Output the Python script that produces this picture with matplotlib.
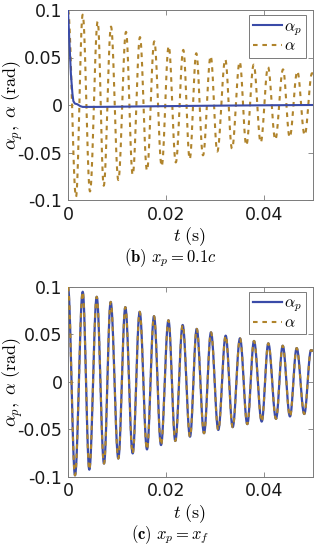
import numpy as np
import matplotlib
matplotlib.use("Agg")
import matplotlib.pyplot as plt

plt.rcParams['mathtext.fontset'] = 'cm'
plt.rcParams['font.family'] = ['DejaVu Sans']

# ---------------- data ----------------
# (b) x_p = 0.1c : alpha (dashed) extrema
b_alpha_peak_t = [0.0, 0.0030, 0.00606, 0.00878, 0.01184, 0.01469, 0.01761, 0.02055, 0.02353,
                  0.02618, 0.02912, 0.0321, 0.03504, 0.0379, 0.04082, 0.04388, 0.0468, 0.0498]
b_alpha_peak_v = [0.1, 0.0951, 0.0880, 0.0825, 0.0770, 0.0715, 0.0670, 0.0620, 0.0580,
                  0.0545, 0.0515, 0.0480, 0.0455, 0.0425, 0.0400, 0.0375, 0.0355, 0.0335]
b_alpha_trough_t = [0.00163, 0.00449, 0.00729, 0.01027, 0.0132, 0.01612, 0.01912, 0.0220, 0.02484,
                    0.02755, 0.03047, 0.03347, 0.03639, 0.03933, 0.04231, 0.04524, 0.0483]
b_alpha_trough_v = [-0.0968, -0.0910, -0.0850, -0.0790, -0.0735, -0.0690, -0.0645, -0.0605, -0.0570,
                    -0.0530, -0.0490, -0.0460, -0.0425, -0.0395, -0.0365, -0.0340, -0.0317]
b_alpha_end = (0.05, 0.0330)

# (b) alpha_p (solid) points
b_alphap_t = [0.0, 0.0003, 0.0006, 0.0009, 0.0011, 0.0014, 0.0019, 0.0025, 0.0030,
              0.0060, 0.0100, 0.0200, 0.0300, 0.0400, 0.0500]
b_alphap_v = [0.1, 0.065, 0.032, 0.012, 0.004, 0.0015, 0.0008, -0.0012, -0.0020,
              -0.0020, -0.0018, -0.0012, -0.0007, -0.0003, 0.0]

# (c) x_p = x_f : alpha_p and alpha coincide; extrema
c_peak_t = [0.0, 0.0030, 0.00586, 0.00871, 0.0117, 0.01463, 0.01755, 0.0205, 0.0234,
            0.02627, 0.02918, 0.03218, 0.0351, 0.03796, 0.04088, 0.04382, 0.04667, 0.0496]
c_peak_v = [0.1, 0.0947, 0.0894, 0.084, 0.0785, 0.0736, 0.069, 0.0647, 0.0597,
            0.0556, 0.052, 0.0485, 0.0457, 0.0429, 0.0404, 0.0379, 0.0354, 0.0333]
c_trough_t = [0.00143, 0.00435, 0.00735, 0.01027, 0.0132, 0.01612, 0.01898, 0.0219, 0.0249,
              0.02776, 0.03067, 0.03361, 0.03659, 0.03953, 0.04245, 0.0453, 0.04822]
c_trough_v = [-0.0986, -0.0926, -0.0862, -0.0809, -0.0755, -0.0713, -0.0667, -0.0624, -0.0579,
              -0.0543, -0.0508, -0.0479, -0.0447, -0.0420, -0.0391, -0.0366, -0.0340]
c_end = (0.05, 0.0325)

x_ticks = [0, 0.02, 0.04]
x_ticklabels = ['0', '0.02', '0.04']
y_ticks = [-0.1, -0.05, 0, 0.05, 0.1]
y_ticklabels = ['-0.1', '-0.05', '0', '0.05', '0.1']

# ---------------- helpers ----------------
def curve_through_extrema(pt, pv, tt, tv, end, n=30):
    t = np.array(list(pt) + list(tt) + [end[0]])
    v = np.array(list(pv) + list(tv) + [end[1]])
    o = np.argsort(t)
    t, v = t[o], v[o]
    T, V = [t[0]], [v[0]]
    for i in range(len(t) - 1):
        s = np.linspace(0, 1, n)[1:]
        T.extend(t[i] + (t[i + 1] - t[i]) * s)
        V.extend(v[i] + (v[i + 1] - v[i]) * (1 - np.cos(np.pi * s)) / 2)
    return np.array(T), np.array(V)

BLUE = '#3A4BA8'
GOLD = '#B0842C'
SPINE = '#7a7a7a'
W, H = 317, 550

fig = plt.figure(figsize=(W / 100, H / 100), dpi=100)
ax1 = fig.add_axes([68 / W, 1 - 200 / H, 245 / W, 190 / H])
ax2 = fig.add_axes([68 / W, 1 - 476.7 / H, 245 / W, 190 / H])

tb, vb = curve_through_extrema(b_alpha_peak_t, b_alpha_peak_v, b_alpha_trough_t, b_alpha_trough_v, b_alpha_end)
tc, vc = curve_through_extrema(c_peak_t, c_peak_v, c_trough_t, c_trough_v, c_end)

ax1.plot(b_alphap_t, b_alphap_v, color=BLUE, lw=1.5, label=r'$\alpha_p$', zorder=3)
ax1.plot(tb, vb, color=GOLD, lw=1.5, dashes=(2.2, 2.3), label=r'$\alpha$', zorder=2)

ax2.plot(tc, vc, color=BLUE, lw=1.6, label=r'$\alpha_p$', zorder=2)
ax2.plot(tc, vc, color=GOLD, lw=1.5, dashes=(2.2, 2.3), label=r'$\alpha$', zorder=3)

for ax in (ax1, ax2):
    ax.set_xlim(0, 0.05)
    ax.set_ylim(-0.1, 0.1)
    ax.set_xticks(x_ticks)
    ax.set_xticklabels(x_ticklabels)
    ax.set_yticks(y_ticks)
    ax.set_yticklabels(y_ticklabels)
    ax.tick_params(direction='in', top=True, right=True, length=3.5, width=0.6,
                   color=SPINE, labelsize=12.5, labelcolor='#1a1a1a', pad=4)
    for sp in ax.spines.values():
        sp.set_color(SPINE)
        sp.set_linewidth(0.7)
    leg = ax.legend(loc='upper right', bbox_to_anchor=((306 - 68) / 245, (200 - 15) / 190),
                    borderaxespad=0, fancybox=False, framealpha=1, edgecolor=SPINE,
                    fontsize=11.5, handlelength=1.8, handletextpad=0.15, borderpad=0.25,
                    labelspacing=0.05)
    leg.get_frame().set_linewidth(0.7)

# labels
for top, caption in ((10, r'$\mathbf{(b)}\ x_p = 0.1c$'), (286.7, r'$\mathbf{(c)}\ x_p = x_f$')):
    fig.text(13 / W, 1 - (top + 95) / H, r'$\alpha_p,\ \alpha\ \mathrm{(rad)}$', rotation=90,
             ha='center', va='center', fontsize=13)
    fig.text(190 / W, 1 - (top + 226.7) / H, r'$t\ \mathrm{(s)}$', ha='center', va='center', fontsize=13)
    fig.text(170 / W, 1 - (top + 247.5) / H, caption, ha='center', va='center', fontsize=12)

fig.savefig('out.png', dpi=100)
